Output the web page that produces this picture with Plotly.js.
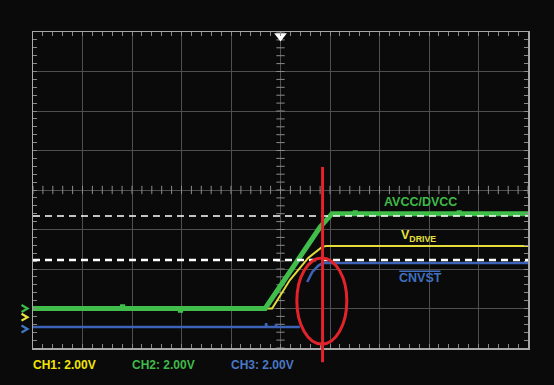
<!DOCTYPE html>
<html><head><meta charset="utf-8">
<script src="https://cdn.plot.ly/plotly-3.0.1.min.js"></script>
<style>html,body{margin:0;padding:0;background:#0a0a0a;}#chart{width:554px;height:385px;}</style>
</head><body><div id="chart"></div>
<script>
// Time / voltage in scope divisions (10 x 8 graticule)
const greenX = [-5, -3.2, -3.19, -3.18, -2.03, -2.02, -2.01, -0.31, 0.05, 0.39, 0.8, 0.96, 1.04, 1.5, 1.51, 1.52, 3.6, 3.61, 3.62, 5];
const greenY = [-3.0, -3.0, -2.9, -3.0, -3.0, -3.1, -3.0, -3.0, -2.35, -1.7, -0.94, -0.7, -0.6, -0.6, -0.52, -0.6, -0.6, -0.52, -0.6, -0.6];
const yellowX = [-5, -0.17, 0.19, 0.56, 0.84, 0.92, 5];
const yellowY = [-3.0, -3.0, -2.28, -1.72, -1.44, -1.42, -1.42];
const blueX = [-5, -0.3, -0.29, -0.28, -0.1, -0.09, -0.08, 0.39, null, 0.54, 0.64, 0.76, 0.85, 5];
const blueY = [-3.47, -3.47, -3.37, -3.47, -3.47, -3.39, -3.47, -3.47, null, -2.33, -2.08, -1.92, -1.85, -1.85];
const cursorLevels = [-0.66, -1.77];
const cursorWidths = [1.5, 2.5];
const redCursorX = 0.85;
const ellipse = {x0: 0.33, x1: 1.34, y0: -3.9, y1: -1.72};
const channelLevels = [-3.0, -3.22, -3.52];
const channelColors = ['#3fba48', '#e8e13c', '#3f78c6'];
const xRange = [-5, 5], yRange = [-4, 4];

const ticksH = [], ticksV = [];
for (let i = 0; i <= 50; i++) ticksH.push(xRange[0] + i * 0.2);
for (let i = 0; i <= 40; i++) ticksV.push(yRange[0] + i * 0.2);

const traces = [
  {x: ticksH, y: ticksH.map(() => 0), mode: 'markers', hoverinfo: 'skip',
   marker: {symbol: 'line-ns', size: 6, line: {color: '#8a8a8a', width: 1}}},
  {x: ticksV.map(() => 0), y: ticksV, mode: 'markers', hoverinfo: 'skip',
   marker: {symbol: 'line-ew', size: 6, line: {color: '#8a8a8a', width: 1}}},
  {x: blueX, y: blueY, mode: 'lines', line: {color: '#3d63b8', width: 2.5}, connectgaps: false},
  {x: yellowX, y: yellowY, mode: 'lines', line: {color: '#e3dc3a', width: 2}},
  {x: greenX, y: greenY, mode: 'lines', line: {color: '#40bd4a', width: 5}},
  {x: [0], y: [3.9], mode: 'markers', cliponaxis: false, hoverinfo: 'skip',
   marker: {symbol: 'triangle-down', size: 11, color: '#ffffff'}}
];

const px = v => (v - xRange[0]) / (xRange[1] - xRange[0]);
const py = v => (v - yRange[0]) / (yRange[1] - yRange[0]);
const shapes = cursorLevels.map((lv, i) => ({type: 'line', xref: 'x', yref: 'y', x0: xRange[0], x1: xRange[1], y0: lv, y1: lv,
  line: {color: '#ffffff', width: cursorWidths[i], dash: '7px,5px'}}));
shapes.push({type: 'line', xref: 'paper', yref: 'paper', x0: px(redCursorX), x1: px(redCursorX), y0: -0.045, y1: 0.573,
  line: {color: '#e2232b', width: 3}});
shapes.push({type: 'circle', xref: 'x', yref: 'y', x0: ellipse.x0, x1: ellipse.x1, y0: ellipse.y0, y1: ellipse.y1,
  line: {color: '#e2232b', width: 3}});
// overline of CNVST
shapes.push({type: 'line', xref: 'x', yref: 'y', x0: 2.40, x1: 3.23, y0: -2.06, y1: -2.06,
  line: {color: '#3f6fc0', width: 1.5}});
// channel level chevrons on the left edge
channelLevels.forEach((lv, i) => {
  const yc = py(lv), h = 0.011;
  shapes.push({type: 'path', xref: 'paper', yref: 'paper',
    path: `M -0.0232 ${yc + h} L -0.0111 ${yc} L -0.0232 ${yc - h}`,
    line: {color: channelColors[i], width: 2.2}});
});

const f = 'Liberation Sans, Arial, sans-serif';
const annotations = [
  {x: 2.06, y: -0.30, text: '<b>AVCC/DVCC</b>', font: {color: '#3fba48', size: 12.5, family: f}},
  {x: 2.39, y: -1.16, text: '<b>V<sub>DRIVE</sub></b>', font: {color: '#e8e13c', size: 12.5, family: f}},
  {x: 2.36, y: -2.23, text: '<b>CNVST</b>', font: {color: '#3f6fc0', size: 12.5, family: f}},
  {x: -0.004, y: -0.055, xref: 'paper', yref: 'paper', text: '<b>CH1: 2.00V</b>', font: {color: '#f2e600', size: 12, family: f}},
  {x: 0.196, y: -0.055, xref: 'paper', yref: 'paper', text: '<b>CH2: 2.00V</b>', font: {color: '#3fba48', size: 12, family: f}},
  {x: 0.396, y: -0.055, xref: 'paper', yref: 'paper', text: '<b>CH3: 2.00V</b>', font: {color: '#4a78c6', size: 12, family: f}}
].map(a => Object.assign({xanchor: 'left', yanchor: 'middle', showarrow: false, xref: 'x', yref: 'y'}, a));

const axisCommon = {showline: true, linecolor: '#a8a8a8', linewidth: 1.5, mirror: 'ticks', ticks: 'inside', ticklen: 4,
  tickcolor: '#8a8a8a', tickwidth: 1, showticklabels: false, showgrid: true, gridcolor: '#4f4f4f', gridwidth: 1,
  zeroline: false, dtick: 1, fixedrange: true};

const layout = {
  width: 554, height: 385, margin: {l: 33, r: 26, t: 32, b: 37},
  paper_bgcolor: '#0a0a0a', plot_bgcolor: '#0a0a0a', showlegend: false,
  xaxis: Object.assign({}, axisCommon, {range: xRange, tick0: -5,
    minor: {dtick: 0.2, tick0: -5, ticks: 'inside', ticklen: 4, tickcolor: '#8a8a8a', tickwidth: 1, showgrid: false}}),
  yaxis: Object.assign({}, axisCommon, {range: yRange, tick0: -4,
    minor: {dtick: 0.2, tick0: -4, ticks: 'inside', ticklen: 4, tickcolor: '#8a8a8a', tickwidth: 1, showgrid: false}}),
  shapes: shapes, annotations: annotations
};
Plotly.newPlot('chart', traces, layout, {staticPlot: true, displayModeBar: false});
</script></body></html>
